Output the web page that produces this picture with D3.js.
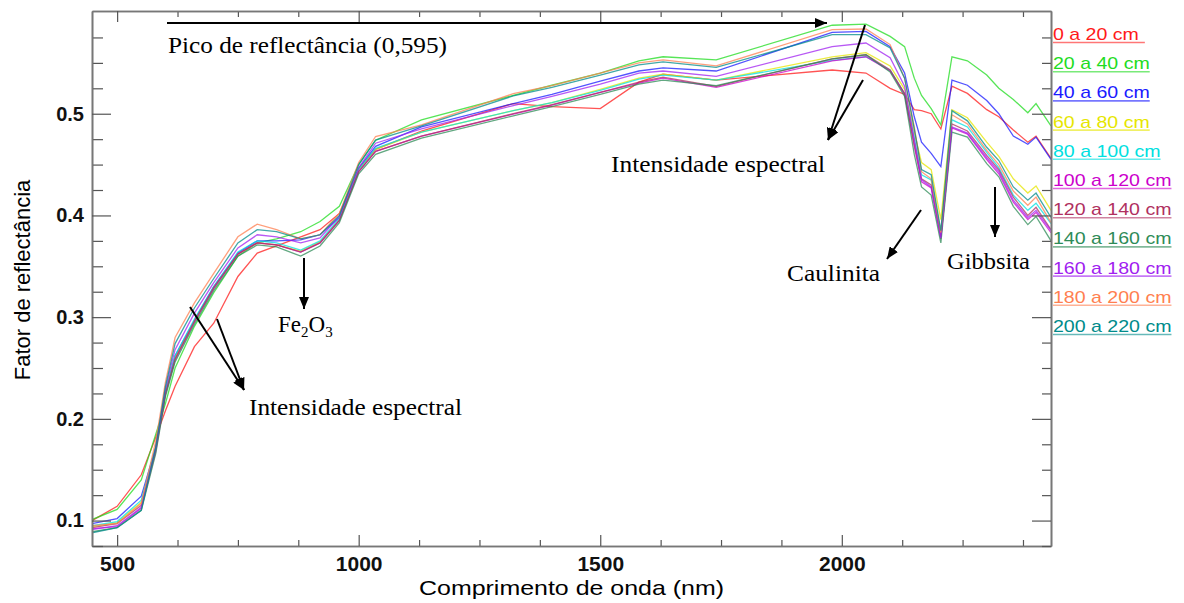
<!DOCTYPE html>
<html>
<head>
<meta charset="utf-8">
<script src="https://cdn.jsdelivr.net/npm/d3@7"></script>
<style>
  body { margin: 0; background: #fff; }
</style>
</head>
<body>
<div id="chart"></div>
<script>
// Reflectance spectra by soil depth

const wavelengths = [448, 500, 550, 580, 600, 620, 660, 700, 750, 790, 830, 880, 920, 960, 1000, 1035, 1130, 1320, 1400, 1500,
    1580, 1630, 1740, 1980, 2050, 2100, 2130, 2150, 2165, 2185, 2205, 2228, 2260, 2300, 2325, 2355, 2385, 2402, 2433];

const depthLabels = ["0 a 20 cm", "20 a 40 cm", "40 a 60 cm", "60 a 80 cm", "80 a 100 cm", "100 a 120 cm",
    "120 a 140 cm", "140 a 160 cm", "160 a 180 cm", "180 a 200 cm", "200 a 220 cm"];

const d0_20 = [0.100, 0.114, 0.145, 0.182, 0.208, 0.232, 0.271, 0.294, 0.340, 0.363, 0.370, 0.379, 0.386, 0.402, 0.446, 0.465, 0.483, 0.510, 0.507, 0.505,
    0.531, 0.539, 0.533, 0.543, 0.540, 0.525, 0.519, 0.504, 0.503, 0.500, 0.485, 0.527, 0.520, 0.504, 0.497, 0.484, 0.472, 0.478, 0.456];
const d20_40 = [0.101, 0.111, 0.140, 0.185, 0.215, 0.250, 0.291, 0.324, 0.360, 0.373, 0.377, 0.384, 0.394, 0.409, 0.450, 0.474, 0.494, 0.518, 0.528, 0.540,
    0.552, 0.556, 0.553, 0.587, 0.588, 0.576, 0.566, 0.535, 0.518, 0.505, 0.489, 0.556, 0.552, 0.538, 0.525, 0.514, 0.501, 0.510, 0.488];
const d40_60 = [0.097, 0.102, 0.124, 0.172, 0.226, 0.262, 0.297, 0.330, 0.363, 0.375, 0.375, 0.376, 0.381, 0.398, 0.446, 0.468, 0.487, 0.510, 0.519, 0.532,
    0.542, 0.545, 0.542, 0.580, 0.581, 0.566, 0.540, 0.497, 0.472, 0.461, 0.448, 0.533, 0.528, 0.513, 0.500, 0.478, 0.470, 0.477, 0.455];
const d60_80 = [0.094, 0.098, 0.118, 0.172, 0.226, 0.260, 0.296, 0.329, 0.362, 0.373, 0.371, 0.365, 0.374, 0.396, 0.445, 0.465, 0.482, 0.503, 0.511, 0.524,
    0.535, 0.539, 0.533, 0.556, 0.560, 0.547, 0.524, 0.482, 0.452, 0.445, 0.396, 0.504, 0.496, 0.472, 0.458, 0.436, 0.422, 0.429, 0.405];
const d80_100 = [0.095, 0.099, 0.120, 0.173, 0.227, 0.262, 0.298, 0.330, 0.364, 0.375, 0.373, 0.366, 0.375, 0.397, 0.445, 0.466, 0.482, 0.503, 0.511, 0.523,
    0.534, 0.538, 0.533, 0.5525, 0.556, 0.543, 0.520, 0.476, 0.440, 0.435, 0.381, 0.494, 0.487, 0.462, 0.447, 0.420, 0.405, 0.412, 0.392];
const d100_120 = [0.092, 0.094, 0.112, 0.168, 0.224, 0.258, 0.295, 0.328, 0.362, 0.373, 0.371, 0.364, 0.373, 0.395, 0.443, 0.463, 0.478, 0.4997, 0.5085, 0.521,
    0.530, 0.535, 0.526, 0.552, 0.556, 0.542, 0.519, 0.468, 0.433, 0.427, 0.377, 0.486, 0.480, 0.455, 0.441, 0.413, 0.396, 0.403, 0.383];
const d120_140 = [0.093, 0.097, 0.115, 0.170, 0.225, 0.259, 0.296, 0.329, 0.362, 0.373, 0.371, 0.364, 0.373, 0.395, 0.443, 0.463, 0.478, 0.500, 0.509, 0.521,
    0.531, 0.536, 0.527, 0.554, 0.558, 0.543, 0.520, 0.470, 0.436, 0.430, 0.379, 0.490, 0.483, 0.459, 0.445, 0.418, 0.400, 0.408, 0.386];
const d140_160 = [0.089, 0.093, 0.110, 0.166, 0.222, 0.256, 0.293, 0.326, 0.360, 0.371, 0.369, 0.360, 0.370, 0.393, 0.441, 0.460, 0.476, 0.498, 0.507, 0.519,
    0.529, 0.533, 0.5275, 0.554, 0.558, 0.541, 0.517, 0.460, 0.428, 0.420, 0.373, 0.482, 0.477, 0.451, 0.438, 0.409, 0.391, 0.399, 0.375];
const d160_180 = [0.091, 0.095, 0.113, 0.172, 0.230, 0.268, 0.304, 0.334, 0.368, 0.381, 0.379, 0.373, 0.378, 0.399, 0.447, 0.471, 0.485, 0.508, 0.517, 0.529,
    0.540, 0.542, 0.5367, 0.566, 0.5695, 0.555, 0.527, 0.475, 0.435, 0.428, 0.378, 0.487, 0.481, 0.457, 0.443, 0.415, 0.398, 0.405, 0.385];
const d180_200 = [0.095, 0.097, 0.117, 0.178, 0.236, 0.280, 0.314, 0.343, 0.379, 0.3915, 0.386, 0.377, 0.381, 0.402, 0.452, 0.4776, 0.489, 0.5197, 0.5276, 0.540,
    0.550, 0.553, 0.547, 0.5826, 0.5833, 0.568, 0.535, 0.487, 0.443, 0.436, 0.383, 0.499, 0.490, 0.464, 0.450, 0.424, 0.410, 0.418, 0.393];
const d200_220 = [0.088, 0.093, 0.110, 0.172, 0.232, 0.274, 0.309, 0.338, 0.373, 0.386, 0.384, 0.377, 0.381, 0.400, 0.450, 0.474, 0.488, 0.5175, 0.526, 0.538,
    0.548, 0.551, 0.5456, 0.5777, 0.5777, 0.5646, 0.535, 0.485, 0.445, 0.440, 0.385, 0.503, 0.493, 0.467, 0.454, 0.428, 0.415, 0.422, 0.398];

const seriesValues = [d0_20, d20_40, d40_60, d60_80, d80_100, d100_120, d120_140, d140_160, d160_180, d180_200, d200_220];

const xMajorTicks = [500, 1000, 1500, 2000];
const yMajorTicks = [0.1, 0.2, 0.3, 0.4, 0.5];

const colors = ["#ff1a1a", "#1fdc1f", "#1a1aff", "#e6e600", "#00e0e0", "#cc00cc",
    "#b03060", "#2e8b57", "#a020f0", "#ff7f50", "#008b8b"];

const width = 1184, height = 603;
const plot = { left: 92, right: 1051, top: 11, bottom: 546 };

const svg = d3.select("#chart")
    .append("svg")
    .attr("width", width)
    .attr("height", height)
    .style("font-family", "'Liberation Sans', Arial, sans-serif");

const x = d3.scaleLinear().domain([448, 2433]).range([plot.left, plot.right]);
const y = d3.scaleLinear().domain([0.075, 0.601]).range([plot.bottom, plot.top]);

const xMinor = d3.range(625, 2433, 125).filter(v => v % 500 !== 0);
const yMinor = d3.range(0.075, 0.6, 0.025).map(v => +v.toFixed(3)).filter(v => Math.abs(v * 10 - Math.round(v * 10)) > 1e-6);

// marker for arrows
const defs = svg.append("defs");
defs.append("marker")
    .attr("id", "head")
    .attr("markerUnits", "userSpaceOnUse")
    .attr("viewBox", "0 0 12 10")
    .attr("refX", 12).attr("refY", 5)
    .attr("markerWidth", 12).attr("markerHeight", 10)
    .attr("orient", "auto")
    .append("path").attr("d", "M0,0L12,5L0,10z").attr("fill", "#000");

defs.append("clipPath").attr("id", "clip")
    .append("rect")
    .attr("x", plot.left).attr("y", plot.top)
    .attr("width", plot.right - plot.left).attr("height", plot.bottom - plot.top);

// spectra
const line = d3.line()
    .x((d, i) => x(wavelengths[i]))
    .y(d => y(d));

svg.append("g")
    .attr("clip-path", "url(#clip)")
    .selectAll("path")
    .data(seriesValues)
    .enter()
    .append("path")
    .attr("d", line)
    .attr("fill", "none")
    .attr("stroke", (d, i) => colors[i])
    .attr("stroke-width", 1.3)
    .attr("stroke-opacity", 0.75);

// axes
function styleAxis(g) {
    g.selectAll(".domain").attr("stroke", "#777").attr("stroke-width", 1.6);
    g.selectAll(".tick line").attr("stroke", "#555").attr("stroke-width", 1.2);
}

svg.append("g")
    .attr("transform", `translate(0,${plot.bottom})`)
    .call(d3.axisBottom(x).tickValues(xMinor).tickSize(-6).tickSizeOuter(0).tickFormat(""))
    .call(styleAxis);
svg.append("g")
    .attr("transform", `translate(0,${plot.bottom})`)
    .call(d3.axisBottom(x).tickValues(xMajorTicks).tickSize(-11).tickSizeOuter(0).tickPadding(10).tickFormat(d3.format("d")))
    .call(styleAxis)
    .call(g => g.selectAll("text")
        .attr("fill", "#111")
        .style("font-size", "21px")
        .style("font-weight", "bold"));

svg.append("g")
    .attr("transform", `translate(0,${plot.top})`)
    .call(d3.axisTop(x).tickValues(xMinor).tickSize(-6).tickSizeOuter(0).tickFormat(""))
    .call(styleAxis);
svg.append("g")
    .attr("transform", `translate(0,${plot.top})`)
    .call(d3.axisTop(x).tickValues(xMajorTicks).tickSize(-11).tickSizeOuter(0).tickFormat(""))
    .call(styleAxis);

svg.append("g")
    .attr("transform", `translate(${plot.left},0)`)
    .call(d3.axisLeft(y).tickValues(yMinor).tickSize(-11).tickSizeOuter(0).tickFormat(""))
    .call(styleAxis);
svg.append("g")
    .attr("transform", `translate(${plot.left},0)`)
    .call(d3.axisLeft(y).tickValues(yMajorTicks).tickSize(-19).tickSizeOuter(0).tickPadding(8).tickFormat(d3.format(".1f")))
    .call(styleAxis)
    .call(g => g.selectAll("text")
        .attr("fill", "#111")
        .style("font-size", "20px")
        .style("font-weight", "bold"));

svg.append("g")
    .attr("transform", `translate(${plot.right},0)`)
    .call(d3.axisRight(y).tickValues(yMinor).tickSize(-9).tickSizeOuter(0).tickFormat(""))
    .call(styleAxis);
svg.append("g")
    .attr("transform", `translate(${plot.right},0)`)
    .call(d3.axisRight(y).tickValues(yMajorTicks).tickSize(-19).tickSizeOuter(0).tickFormat(""))
    .call(styleAxis);

// axis titles
svg.append("text")
    .attr("x", (plot.left + plot.right) / 2)
    .attr("y", 595)
    .attr("text-anchor", "middle")
    .attr("textLength", 305)
    .attr("lengthAdjust", "spacingAndGlyphs")
    .style("font-size", "21px")
    .text("Comprimento de onda (nm)");

svg.append("text")
    .attr("transform", "translate(30,280) rotate(-90)")
    .attr("text-anchor", "middle")
    .style("font-size", "22px")
    .text("Fator de reflectância");

// legend
const legend = svg.append("g").attr("transform", "translate(1053,0)");
depthLabels.forEach((label, i) => {
    const by = 40 + i * 29.2;
    const t = legend.append("text")
        .attr("x", 0).attr("y", by)
        .attr("fill", colors[i])
        .style("font-size", "17px")
        .text(label);
    const w = t.node().getComputedTextLength() * 1.15;
    t.attr("textLength", w).attr("lengthAdjust", "spacingAndGlyphs");
    legend.append("line")
        .attr("x1", 0).attr("x2", w + (i === 0 ? 6 : 0))
        .attr("y1", by + 2.5).attr("y2", by + 2.5)
        .attr("stroke", colors[i])
        .attr("stroke-opacity", 0.6)
        .attr("stroke-width", 1.6);
});

// annotations
const notes = svg.append("g")
    .style("font-family", "'Liberation Serif', 'Times New Roman', serif")
    .style("font-size", "23px")
    .attr("fill", "#000");

function arrow(x1, y1, x2, y2) {
    svg.append("line")
        .attr("x1", x1).attr("y1", y1).attr("x2", x2).attr("y2", y2)
        .attr("stroke", "#000").attr("stroke-width", 2)
        .attr("marker-end", "url(#head)");
}

function note(tx, ty, str, len) {
    notes.append("text")
        .attr("x", tx).attr("y", ty)
        .attr("textLength", len)
        .attr("lengthAdjust", "spacingAndGlyphs")
        .text(str);
}

arrow(167, 23, 827, 23);
note(168, 53, "Pico de reflectância (0,595)", 279);

arrow(865, 25, 828, 140);
arrow(863, 80, 828, 140);
note(611, 172, "Intensidade espectral", 214);

arrow(190, 307, 244, 390);
arrow(217, 319, 244, 390);
note(249, 415, "Intensidade espectral", 213);

arrow(304, 258, 304, 309);
const fe = notes.append("text").attr("x", 278).attr("y", 332);
fe.append("tspan").text("Fe");
fe.append("tspan").attr("dy", 5).style("font-size", "15px").text("2");
fe.append("tspan").attr("dy", -5).text("O");
fe.append("tspan").attr("dy", 5).style("font-size", "15px").text("3");

arrow(921, 210, 887, 259);
note(787, 281, "Caulinita", 93);

arrow(995, 187, 995, 237);
note(947, 269, "Gibbsita", 83);
</script>
</body>
</html>
